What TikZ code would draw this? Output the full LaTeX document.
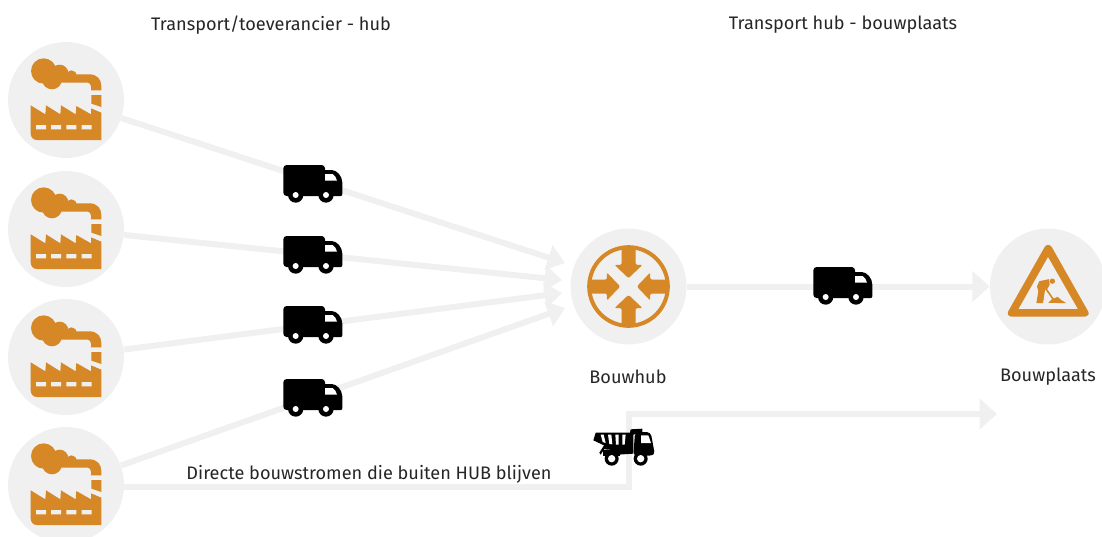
\documentclass[tikz,border=0pt]{standalone}
\usepackage{fontspec}
\setmainfont{Fira Sans}
\usetikzlibrary{arrows.meta}
\definecolor{pale}{HTML}{F0F0F0}
\definecolor{ochre}{HTML}{D68726}
\tikzset{
  disc/.style={circle,fill=pale,inner sep=0pt,minimum size=87pt},
  flow/.style={draw=pale,line width=4.5pt},
  flowhead/.style={-{Triangle[length=13pt,width=19pt,color=pale]}},
  bighead/.style={-{Triangle[length=13pt,width=22.5pt,color=pale]}},
  label/.style={inner sep=0pt,font=\fontsize{13.6}{16}\selectfont,text=black!85},
  factory/.pic={\begin{scope}[shift={(-197,-212)}]
    \fill[ochre] (130,125) circle (38) (178,132) circle (26) (213,140) circle (17) (155,150) circle (30);
    \fill[ochre] (200,135) -- (268,135) .. controls (290,135) and (303,150) .. (303,170) -- (303,183) -- (272,183) -- (272,172) .. controls (272,165) and (268,160) .. (262,160) -- (150,160) -- cycle;
    \fill[ochre] (273,197) -- (303,197) -- (303,233) -- (273,223) -- cycle;
    \fill[ochre] (91,228) -- (135,255) -- (137,228) -- (180,255) -- (182,228) -- (226,255) -- (228,230) -- (272,255) -- (272,237) -- (303,250) -- (303,332) -- (110,332) .. controls (98,332) and (91,323) .. (91,312) -- cycle;
    \fill[pale] (107,287) rectangle (137,300) (152,287) rectangle (182,300) (198,287) rectangle (228,300) (244,287) rectangle (274,300);
  \end{scope}},
  lorry/.pic={\begin{scope}[shift={(-129,-102)}]
    \fill[black,rounded corners=2.5pt] (40,45) -- (165,45) -- (165,138) -- (40,138) -- cycle;
    \fill[black] (150,60) -- (185,60) .. controls (200,60) and (217,78) .. (217,98) -- (217,132) .. controls (217,136) and (215,138) .. (212,138) -- (150,138) -- cycle;
    \fill[white] (165,72) -- (188,72) .. controls (195,76) and (199,84) .. (201,92) -- (165,92) -- cycle;
    \fill[black] (77,135) circle (23) (168,135) circle (23);
    \fill[white] (77,135) circle (9) (168,135) circle (9);
  \end{scope}},
  hubicon/.pic={
    \draw[ochre,line width=3pt] (0,0) circle (118);
    \foreach \a in {0,90,180,270} {
      \fill[ochre,rounded corners=1pt,rotate=\a] (-21,-120) -- (21,-120) -- (21,-65) -- (42,-65) -- (0,-25) -- (-42,-65) -- (-21,-65) -- cycle;
    }
  },
  siteicon/.pic={\begin{scope}[shift={(-233,-198)}]
    \fill[ochre] (233,73) .. controls (238,73) and (242,76) .. (245,81) -- (353,272) .. controls (358,281) and (353,288) .. (345,288) -- (123,288) .. controls (114,288) and (110,281) .. (114,272) -- (222,81) .. controls (225,76) and (229,73) .. (233,73) -- cycle;
    \fill[pale] (233,110) -- (322,265) -- (145,265) -- cycle;
    \fill[ochre] (246,182) circle (8);
    \fill[ochre] (207,182) -- (236,176) -- (238,192) -- (232,204) -- (224,208) -- (218,248) -- (198,248) -- (204,212) -- (200,198) -- cycle;
    \draw[ochre,line width=1.2pt] (222,198) -- (250,238);
    \fill[ochre] (234,247) -- (245,236) -- (262,229) -- (272,238) -- (288,248) -- cycle;
  \end{scope}},
  dumper/.pic={\begin{scope}[shift={(-132,-155)}]
    \fill[black] (47,112) -- (150,112) -- (152,102) -- (187,100) -- (187,112) -- (160,118) -- (160,175) -- (115,178) -- (115,165) -- (72,162) -- (62,178) -- (58,172) -- (72,150) -- (40,135) -- cycle;
    \fill[black,rounded corners=3pt] (165,110) -- (212,110) -- (225,180) -- (160,182) -- cycle;
    \fill[black] (70,165) rectangle (120,182);
    \fill[white] (183,120) -- (205,120) -- (213,143) -- (183,143) -- cycle;
    \fill[white] (62,118) -- (71,118) -- (77,143) -- (68,140) -- cycle;
    \fill[white] (84,118) -- (94,118) -- (97,147) -- (88,146) -- cycle;
    \fill[white] (106,118) -- (116,118) -- (116,148) -- (108,148) -- cycle;
    \fill[white] (127,118) -- (137,118) -- (134,148) -- (127,148) -- cycle;
    \fill[black] (95,190) circle (21) (182,190) circle (21);
    \fill[white] (95,190) circle (11) (182,190) circle (11);
  \end{scope}}
}
\begin{document}
\begin{tikzpicture}[x=0.75pt,y=-0.75pt]
\useasboundingbox (0,0) rectangle (1102,536);
\clip (0,0) rectangle (1102,536);

\node[disc] (f1) at (66,100) {};
\node[disc] (f2) at (66,229) {};
\node[disc] (f3) at (66,357) {};
\node[disc] (f4) at (66,485) {};
\node[disc] (hub) at (628.5,286.5) {};
\node[disc] (site) at (1048,286.5) {};

\coordinate (h1) at (565,263);
\coordinate (h2) at (562,280);
\coordinate (h3) at (562,293);
\coordinate (h4) at (565,308);
\coordinate (d1) at (629,487);
\coordinate (d2) at (629,414);
\coordinate (d3) at (997,414);

\draw[flow,flowhead] (f1) -- (h1);
\draw[flow,flowhead] (f2) -- (h2);
\draw[flow,flowhead] (f3) -- (h3);
\draw[flow,flowhead] (f4) -- (h4);
\draw[flow,bighead] (hub) -- (site);
\draw[flow,bighead] (f4.east |- d1) -- (d1) -- (d2) -- (d3);

\foreach \p in {(66,100),(66,229),(66,357),(66,485)} {\pic[scale=1/3] at \p {factory};}
\foreach \p in {(313,184),(313,255),(313,325),(313,398),(843,286)} {\pic[scale=1/3] at \p {lorry};}
\pic[scale=1/3] at (hub) {hubicon};
\pic[scale=1/3] at (site) {siteicon};
\pic[scale=1/3] at (624,447) {dumper};

\node[label] (t1) at (271,25) {Transport/toeverancier - hub};
\node[label] (t2) at (843,25) {Transport hub - bouwplaats};
\node[label] (t3) at (628,377) {Bouwhub};
\node[label] (t4) at (1048,377) {Bouwplaats};
\node[label] (t5) at (369,474) {Directe bouwstromen die buiten HUB blijven};
\end{tikzpicture}
\end{document}
